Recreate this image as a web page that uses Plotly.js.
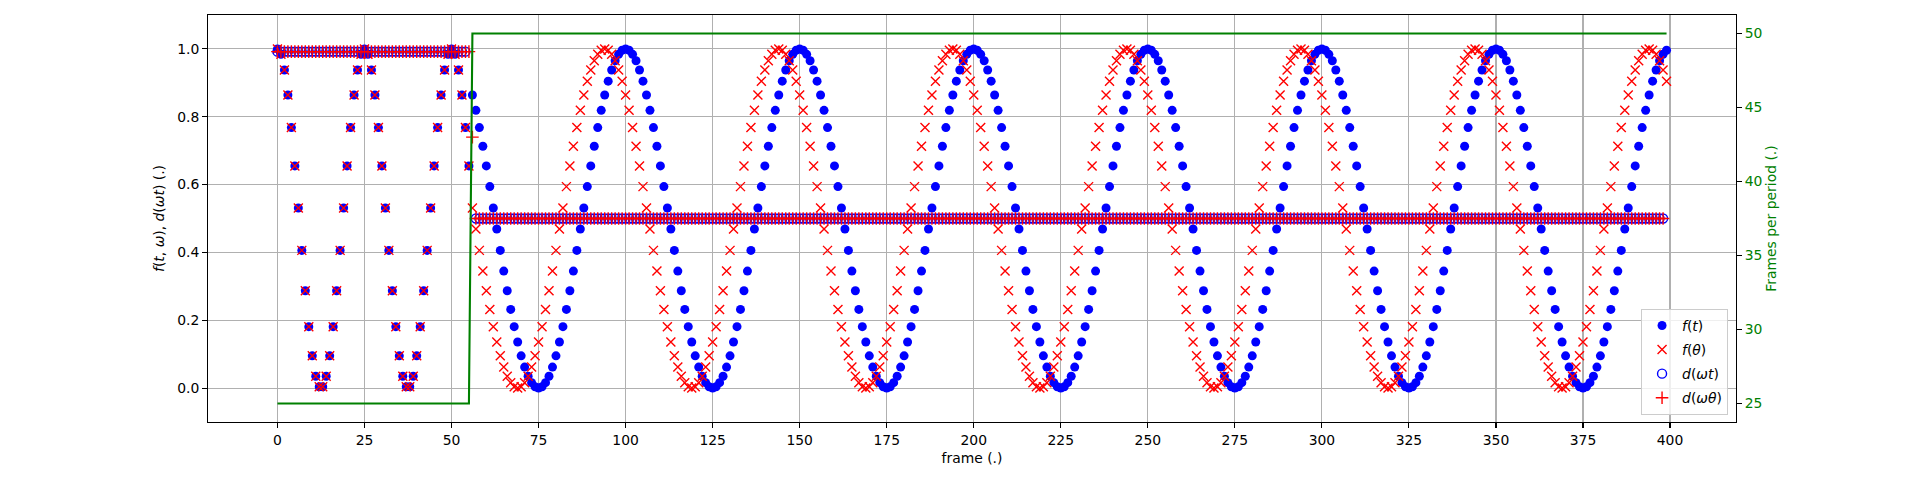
<!DOCTYPE html>
<html>
<head>
<meta charset="utf-8">
<script src="https://cdn.plot.ly/plotly-3.0.1.min.js"></script>
<style>html,body{margin:0;padding:0;background:#fff;}#chart{width:1920px;height:480px;}</style>
</head>
<body>
<div id="chart"></div>
<script>
// frame index 0..399
const frames = Array.from({length: 400}, (_, i) => i);

// f(t): blue filled circles
const fT = [
// 0-24
1.000,0.984,0.938,0.864,0.768,0.655,0.531,0.406,0.287,0.181,0.095,0.035,0.004,0.004,0.035,0.095,0.181,0.287,0.406,0.531,0.655,0.768,0.864,0.938,0.984,
// 25-49
1.000,0.984,0.938,0.864,0.768,0.655,0.531,0.406,0.287,0.181,0.095,0.035,0.004,0.004,0.035,0.095,0.181,0.287,0.406,0.531,0.655,0.768,0.864,0.938,0.984,
// 50-55
1.000,0.984,0.938,0.864,0.768,0.655,
// 56-99
0.864,0.819,0.768,0.713,
0.655,0.594,0.531,0.469,0.406,0.345,0.287,0.232,0.181,0.136,
0.095,0.062,0.035,0.016,0.004,0.000,0.004,0.016,0.035,0.062,
0.095,0.136,0.181,0.232,0.287,0.345,0.406,0.469,0.531,0.594,
0.655,0.713,0.768,0.819,0.864,0.905,0.938,0.965,0.984,0.996,
// 100-149
1.000,0.996,0.984,0.965,0.938,0.905,0.864,0.819,0.768,0.713,
0.655,0.594,0.531,0.469,0.406,0.345,0.287,0.232,0.181,0.136,
0.095,0.062,0.035,0.016,0.004,0.000,0.004,0.016,0.035,0.062,
0.095,0.136,0.181,0.232,0.287,0.345,0.406,0.469,0.531,0.594,
0.655,0.713,0.768,0.819,0.864,0.905,0.938,0.965,0.984,0.996,
// 150-199
1.000,0.996,0.984,0.965,0.938,0.905,0.864,0.819,0.768,0.713,
0.655,0.594,0.531,0.469,0.406,0.345,0.287,0.232,0.181,0.136,
0.095,0.062,0.035,0.016,0.004,0.000,0.004,0.016,0.035,0.062,
0.095,0.136,0.181,0.232,0.287,0.345,0.406,0.469,0.531,0.594,
0.655,0.713,0.768,0.819,0.864,0.905,0.938,0.965,0.984,0.996,
// 200-249
1.000,0.996,0.984,0.965,0.938,0.905,0.864,0.819,0.768,0.713,
0.655,0.594,0.531,0.469,0.406,0.345,0.287,0.232,0.181,0.136,
0.095,0.062,0.035,0.016,0.004,0.000,0.004,0.016,0.035,0.062,
0.095,0.136,0.181,0.232,0.287,0.345,0.406,0.469,0.531,0.594,
0.655,0.713,0.768,0.819,0.864,0.905,0.938,0.965,0.984,0.996,
// 250-299
1.000,0.996,0.984,0.965,0.938,0.905,0.864,0.819,0.768,0.713,
0.655,0.594,0.531,0.469,0.406,0.345,0.287,0.232,0.181,0.136,
0.095,0.062,0.035,0.016,0.004,0.000,0.004,0.016,0.035,0.062,
0.095,0.136,0.181,0.232,0.287,0.345,0.406,0.469,0.531,0.594,
0.655,0.713,0.768,0.819,0.864,0.905,0.938,0.965,0.984,0.996,
// 300-349
1.000,0.996,0.984,0.965,0.938,0.905,0.864,0.819,0.768,0.713,
0.655,0.594,0.531,0.469,0.406,0.345,0.287,0.232,0.181,0.136,
0.095,0.062,0.035,0.016,0.004,0.000,0.004,0.016,0.035,0.062,
0.095,0.136,0.181,0.232,0.287,0.345,0.406,0.469,0.531,0.594,
0.655,0.713,0.768,0.819,0.864,0.905,0.938,0.965,0.984,0.996,
// 350-399
1.000,0.996,0.984,0.965,0.938,0.905,0.864,0.819,0.768,0.713,
0.655,0.594,0.531,0.469,0.406,0.345,0.287,0.232,0.181,0.136,
0.095,0.062,0.035,0.016,0.004,0.000,0.004,0.016,0.035,0.062,
0.095,0.136,0.181,0.232,0.287,0.345,0.406,0.469,0.531,0.594,
0.655,0.713,0.768,0.819,0.864,0.905,0.938,0.965,0.984,0.996
];

// f(theta): red x markers
const fTheta = [
// 0-24
1.000,0.984,0.938,0.864,0.768,0.655,0.531,0.406,0.287,0.181,0.095,0.035,0.004,0.004,0.035,0.095,0.181,0.287,0.406,0.531,0.655,0.768,0.864,0.938,0.984,
// 25-49
1.000,0.984,0.938,0.864,0.768,0.655,0.531,0.406,0.287,0.181,0.095,0.035,0.004,0.004,0.035,0.095,0.181,0.287,0.406,0.531,0.655,0.768,0.864,0.938,0.984,
// 50-55
1.000,0.984,0.938,0.864,0.768,0.655,
// 56-93
0.531,0.469,0.406,0.345,0.287,0.232,0.181,0.136,
0.095,0.062,0.035,0.016,0.004,0.000,0.004,0.016,0.035,0.062,
0.095,0.136,0.181,0.232,0.287,0.345,0.406,0.469,0.531,0.594,
0.655,0.713,0.768,0.819,0.864,0.905,0.938,0.965,0.984,0.996,
// 94-143
1.000,0.996,0.984,0.965,0.938,0.905,0.864,0.819,0.768,0.713,
0.655,0.594,0.531,0.469,0.406,0.345,0.287,0.232,0.181,0.136,
0.095,0.062,0.035,0.016,0.004,0.000,0.004,0.016,0.035,0.062,
0.095,0.136,0.181,0.232,0.287,0.345,0.406,0.469,0.531,0.594,
0.655,0.713,0.768,0.819,0.864,0.905,0.938,0.965,0.984,0.996,
// 144-193
1.000,0.996,0.984,0.965,0.938,0.905,0.864,0.819,0.768,0.713,
0.655,0.594,0.531,0.469,0.406,0.345,0.287,0.232,0.181,0.136,
0.095,0.062,0.035,0.016,0.004,0.000,0.004,0.016,0.035,0.062,
0.095,0.136,0.181,0.232,0.287,0.345,0.406,0.469,0.531,0.594,
0.655,0.713,0.768,0.819,0.864,0.905,0.938,0.965,0.984,0.996,
// 194-243
1.000,0.996,0.984,0.965,0.938,0.905,0.864,0.819,0.768,0.713,
0.655,0.594,0.531,0.469,0.406,0.345,0.287,0.232,0.181,0.136,
0.095,0.062,0.035,0.016,0.004,0.000,0.004,0.016,0.035,0.062,
0.095,0.136,0.181,0.232,0.287,0.345,0.406,0.469,0.531,0.594,
0.655,0.713,0.768,0.819,0.864,0.905,0.938,0.965,0.984,0.996,
// 244-293
1.000,0.996,0.984,0.965,0.938,0.905,0.864,0.819,0.768,0.713,
0.655,0.594,0.531,0.469,0.406,0.345,0.287,0.232,0.181,0.136,
0.095,0.062,0.035,0.016,0.004,0.000,0.004,0.016,0.035,0.062,
0.095,0.136,0.181,0.232,0.287,0.345,0.406,0.469,0.531,0.594,
0.655,0.713,0.768,0.819,0.864,0.905,0.938,0.965,0.984,0.996,
// 294-343
1.000,0.996,0.984,0.965,0.938,0.905,0.864,0.819,0.768,0.713,
0.655,0.594,0.531,0.469,0.406,0.345,0.287,0.232,0.181,0.136,
0.095,0.062,0.035,0.016,0.004,0.000,0.004,0.016,0.035,0.062,
0.095,0.136,0.181,0.232,0.287,0.345,0.406,0.469,0.531,0.594,
0.655,0.713,0.768,0.819,0.864,0.905,0.938,0.965,0.984,0.996,
// 344-393
1.000,0.996,0.984,0.965,0.938,0.905,0.864,0.819,0.768,0.713,
0.655,0.594,0.531,0.469,0.406,0.345,0.287,0.232,0.181,0.136,
0.095,0.062,0.035,0.016,0.004,0.000,0.004,0.016,0.035,0.062,
0.095,0.136,0.181,0.232,0.287,0.345,0.406,0.469,0.531,0.594,
0.655,0.713,0.768,0.819,0.864,0.905,0.938,0.965,0.984,0.996,
// 394-399
1.000,0.996,0.984,0.965,0.938,0.905
];

// d(omega t): blue open circles (frames 55-56 fall outside the axis)
const dOmegaT = [
// 0-49
0.992,0.992,0.992,0.992,0.992,0.992,0.992,0.992,0.992,0.992,
0.992,0.992,0.992,0.992,0.992,0.992,0.992,0.992,0.992,0.992,
0.992,0.992,0.992,0.992,0.992,0.992,0.992,0.992,0.992,0.992,
0.992,0.992,0.992,0.992,0.992,0.992,0.992,0.992,0.992,0.992,
0.992,0.992,0.992,0.992,0.992,0.992,0.992,0.992,0.992,0.992,
// 50-54
0.992,0.992,0.992,0.992,0.992,
// 55-56
null,null,
// 57-59
0.5,0.5,0.5,
// 60-389
0.5,0.5,0.5,0.5,0.5,0.5,0.5,0.5,0.5,0.5,
0.5,0.5,0.5,0.5,0.5,0.5,0.5,0.5,0.5,0.5,
0.5,0.5,0.5,0.5,0.5,0.5,0.5,0.5,0.5,0.5,
0.5,0.5,0.5,0.5,0.5,0.5,0.5,0.5,0.5,0.5,
0.5,0.5,0.5,0.5,0.5,0.5,0.5,0.5,0.5,0.5,
0.5,0.5,0.5,0.5,0.5,0.5,0.5,0.5,0.5,0.5,
0.5,0.5,0.5,0.5,0.5,0.5,0.5,0.5,0.5,0.5,
0.5,0.5,0.5,0.5,0.5,0.5,0.5,0.5,0.5,0.5,
0.5,0.5,0.5,0.5,0.5,0.5,0.5,0.5,0.5,0.5,
0.5,0.5,0.5,0.5,0.5,0.5,0.5,0.5,0.5,0.5,
0.5,0.5,0.5,0.5,0.5,0.5,0.5,0.5,0.5,0.5,
0.5,0.5,0.5,0.5,0.5,0.5,0.5,0.5,0.5,0.5,
0.5,0.5,0.5,0.5,0.5,0.5,0.5,0.5,0.5,0.5,
0.5,0.5,0.5,0.5,0.5,0.5,0.5,0.5,0.5,0.5,
0.5,0.5,0.5,0.5,0.5,0.5,0.5,0.5,0.5,0.5,
0.5,0.5,0.5,0.5,0.5,0.5,0.5,0.5,0.5,0.5,
0.5,0.5,0.5,0.5,0.5,0.5,0.5,0.5,0.5,0.5,
0.5,0.5,0.5,0.5,0.5,0.5,0.5,0.5,0.5,0.5,
0.5,0.5,0.5,0.5,0.5,0.5,0.5,0.5,0.5,0.5,
0.5,0.5,0.5,0.5,0.5,0.5,0.5,0.5,0.5,0.5,
0.5,0.5,0.5,0.5,0.5,0.5,0.5,0.5,0.5,0.5,
0.5,0.5,0.5,0.5,0.5,0.5,0.5,0.5,0.5,0.5,
0.5,0.5,0.5,0.5,0.5,0.5,0.5,0.5,0.5,0.5,
0.5,0.5,0.5,0.5,0.5,0.5,0.5,0.5,0.5,0.5,
0.5,0.5,0.5,0.5,0.5,0.5,0.5,0.5,0.5,0.5,
0.5,0.5,0.5,0.5,0.5,0.5,0.5,0.5,0.5,0.5,
0.5,0.5,0.5,0.5,0.5,0.5,0.5,0.5,0.5,0.5,
0.5,0.5,0.5,0.5,0.5,0.5,0.5,0.5,0.5,0.5,
0.5,0.5,0.5,0.5,0.5,0.5,0.5,0.5,0.5,0.5,
0.5,0.5,0.5,0.5,0.5,0.5,0.5,0.5,0.5,0.5,
0.5,0.5,0.5,0.5,0.5,0.5,0.5,0.5,0.5,0.5,
0.5,0.5,0.5,0.5,0.5,0.5,0.5,0.5,0.5,0.5,
0.5,0.5,0.5,0.5,0.5,0.5,0.5,0.5,0.5,0.5,
// 390-398
0.5,0.5,0.5,0.5,0.5,0.5,0.5,0.5,0.5,
// 399
null
];

// d(omega theta): red plus markers
const dOmegaTheta = [
// 0-49
0.992,0.992,0.992,0.992,0.992,0.992,0.992,0.992,0.992,0.992,
0.992,0.992,0.992,0.992,0.992,0.992,0.992,0.992,0.992,0.992,
0.992,0.992,0.992,0.992,0.992,0.992,0.992,0.992,0.992,0.992,
0.992,0.992,0.992,0.992,0.992,0.992,0.992,0.992,0.992,0.992,
0.992,0.992,0.992,0.992,0.992,0.992,0.992,0.992,0.992,0.992,
// 50-55
0.992,0.992,0.992,0.992,0.992,0.992,
// 56
0.74,
// 57-59
0.5,0.5,0.5,
// 60-389
0.5,0.5,0.5,0.5,0.5,0.5,0.5,0.5,0.5,0.5,
0.5,0.5,0.5,0.5,0.5,0.5,0.5,0.5,0.5,0.5,
0.5,0.5,0.5,0.5,0.5,0.5,0.5,0.5,0.5,0.5,
0.5,0.5,0.5,0.5,0.5,0.5,0.5,0.5,0.5,0.5,
0.5,0.5,0.5,0.5,0.5,0.5,0.5,0.5,0.5,0.5,
0.5,0.5,0.5,0.5,0.5,0.5,0.5,0.5,0.5,0.5,
0.5,0.5,0.5,0.5,0.5,0.5,0.5,0.5,0.5,0.5,
0.5,0.5,0.5,0.5,0.5,0.5,0.5,0.5,0.5,0.5,
0.5,0.5,0.5,0.5,0.5,0.5,0.5,0.5,0.5,0.5,
0.5,0.5,0.5,0.5,0.5,0.5,0.5,0.5,0.5,0.5,
0.5,0.5,0.5,0.5,0.5,0.5,0.5,0.5,0.5,0.5,
0.5,0.5,0.5,0.5,0.5,0.5,0.5,0.5,0.5,0.5,
0.5,0.5,0.5,0.5,0.5,0.5,0.5,0.5,0.5,0.5,
0.5,0.5,0.5,0.5,0.5,0.5,0.5,0.5,0.5,0.5,
0.5,0.5,0.5,0.5,0.5,0.5,0.5,0.5,0.5,0.5,
0.5,0.5,0.5,0.5,0.5,0.5,0.5,0.5,0.5,0.5,
0.5,0.5,0.5,0.5,0.5,0.5,0.5,0.5,0.5,0.5,
0.5,0.5,0.5,0.5,0.5,0.5,0.5,0.5,0.5,0.5,
0.5,0.5,0.5,0.5,0.5,0.5,0.5,0.5,0.5,0.5,
0.5,0.5,0.5,0.5,0.5,0.5,0.5,0.5,0.5,0.5,
0.5,0.5,0.5,0.5,0.5,0.5,0.5,0.5,0.5,0.5,
0.5,0.5,0.5,0.5,0.5,0.5,0.5,0.5,0.5,0.5,
0.5,0.5,0.5,0.5,0.5,0.5,0.5,0.5,0.5,0.5,
0.5,0.5,0.5,0.5,0.5,0.5,0.5,0.5,0.5,0.5,
0.5,0.5,0.5,0.5,0.5,0.5,0.5,0.5,0.5,0.5,
0.5,0.5,0.5,0.5,0.5,0.5,0.5,0.5,0.5,0.5,
0.5,0.5,0.5,0.5,0.5,0.5,0.5,0.5,0.5,0.5,
0.5,0.5,0.5,0.5,0.5,0.5,0.5,0.5,0.5,0.5,
0.5,0.5,0.5,0.5,0.5,0.5,0.5,0.5,0.5,0.5,
0.5,0.5,0.5,0.5,0.5,0.5,0.5,0.5,0.5,0.5,
0.5,0.5,0.5,0.5,0.5,0.5,0.5,0.5,0.5,0.5,
0.5,0.5,0.5,0.5,0.5,0.5,0.5,0.5,0.5,0.5,
0.5,0.5,0.5,0.5,0.5,0.5,0.5,0.5,0.5,0.5,
// 390-398
0.5,0.5,0.5,0.5,0.5,0.5,0.5,0.5,0.5,
// 399
null
];

// frames per period (right axis, green line)
const framesPerPeriod = [
// 0-49
25,25,25,25,25,25,25,25,25,25,
25,25,25,25,25,25,25,25,25,25,
25,25,25,25,25,25,25,25,25,25,
25,25,25,25,25,25,25,25,25,25,
25,25,25,25,25,25,25,25,25,25,
// 50-55
25,25,25,25,25,25,
// 56-59
50,50,50,50,
// 60-399
50,50,50,50,50,50,50,50,50,50,
50,50,50,50,50,50,50,50,50,50,
50,50,50,50,50,50,50,50,50,50,
50,50,50,50,50,50,50,50,50,50,
50,50,50,50,50,50,50,50,50,50,
50,50,50,50,50,50,50,50,50,50,
50,50,50,50,50,50,50,50,50,50,
50,50,50,50,50,50,50,50,50,50,
50,50,50,50,50,50,50,50,50,50,
50,50,50,50,50,50,50,50,50,50,
50,50,50,50,50,50,50,50,50,50,
50,50,50,50,50,50,50,50,50,50,
50,50,50,50,50,50,50,50,50,50,
50,50,50,50,50,50,50,50,50,50,
50,50,50,50,50,50,50,50,50,50,
50,50,50,50,50,50,50,50,50,50,
50,50,50,50,50,50,50,50,50,50,
50,50,50,50,50,50,50,50,50,50,
50,50,50,50,50,50,50,50,50,50,
50,50,50,50,50,50,50,50,50,50,
50,50,50,50,50,50,50,50,50,50,
50,50,50,50,50,50,50,50,50,50,
50,50,50,50,50,50,50,50,50,50,
50,50,50,50,50,50,50,50,50,50,
50,50,50,50,50,50,50,50,50,50,
50,50,50,50,50,50,50,50,50,50,
50,50,50,50,50,50,50,50,50,50,
50,50,50,50,50,50,50,50,50,50,
50,50,50,50,50,50,50,50,50,50,
50,50,50,50,50,50,50,50,50,50,
50,50,50,50,50,50,50,50,50,50,
50,50,50,50,50,50,50,50,50,50,
50,50,50,50,50,50,50,50,50,50,
50,50,50,50,50,50,50,50,50,50
];

const seriesNames = ['<i>f</i>(<i>t</i>)', '<i>f</i>(<i>θ</i>)', '<i>d</i>(<i>ωt</i>)', '<i>d</i>(<i>ωθ</i>)'];

[fT, fTheta, dOmegaT, dOmegaTheta, framesPerPeriod].forEach((a, i) => {
  if (a.length !== 400) throw new Error('series ' + i + ' has length ' + a.length);
});

const FONT = 'DejaVu Sans';
const FS = 13.9;
const MS = 9;

const traces = [
  {x: frames, y: fT, type: 'scatter', mode: 'markers', name: seriesNames[0], legendgroup: 'a',
   marker: {symbol: 'circle', size: MS, color: '#0000ff', line: {width: 0}}},
  {x: frames, y: fTheta, type: 'scatter', mode: 'markers', name: seriesNames[1], legendgroup: 'b',
   marker: {symbol: 'x-thin-open', size: MS, color: '#ff0000', line: {width: 1.4, color: '#ff0000'}}},
  {x: frames, y: dOmegaT, type: 'scatter', mode: 'markers', name: seriesNames[2], legendgroup: 'c',
   marker: {symbol: 'circle-open', size: MS, color: '#0000ff', line: {width: 1.4, color: '#0000ff'}}},
  {x: frames, y: dOmegaTheta, type: 'scatter', mode: 'markers', name: seriesNames[3], legendgroup: 'd',
   marker: {symbol: 'cross-thin-open', size: MS, color: '#ff0000', line: {width: 1.4, color: '#ff0000'}}},
  {x: frames, y: framesPerPeriod, type: 'scatter', mode: 'lines', yaxis: 'y2', showlegend: false,
   line: {color: '#008000', width: 2.1}}
];

const axisCommon = {
  ticks: 'outside', ticklen: 4.9, tickwidth: 1.1, tickcolor: '#000',
  showline: true, linecolor: '#000', linewidth: 1.1,
  zeroline: false, tickfont: {family: FONT, size: FS, color: '#000'}
};

const layout = {
  width: 1920, height: 480,
  margin: {l: 208, r: 184, t: 15, b: 58, pad: 0},
  paper_bgcolor: '#ffffff', plot_bgcolor: '#ffffff',
  font: {family: FONT, size: FS, color: '#000'},
  showlegend: true,
  xaxis: Object.assign({}, axisCommon, {
    range: [-19.95, 418.95], tick0: 0, dtick: 25, mirror: true,
    showgrid: true, gridcolor: '#b0b0b0', gridwidth: 1.1,
    title: {text: 'frame (.)', font: {family: FONT, size: FS, color: '#000'}, standoff: 6}
  }),
  yaxis: Object.assign({}, axisCommon, {
    range: [-0.1, 1.1], tick0: 0, dtick: 0.2, tickformat: '.1f', mirror: true,
    showgrid: true, gridcolor: '#b0b0b0', gridwidth: 1.1,
    title: {text: '<i>f</i>(<i>t</i>, <i>ω</i>), <i>d</i>(<i>ωt</i>) (.)', font: {family: FONT, size: FS, color: '#000'}, standoff: 9}
  }),
  yaxis2: Object.assign({}, axisCommon, {
    overlaying: 'y', side: 'right', anchor: 'x',
    range: [23.75, 51.25], tick0: 25, dtick: 5, showgrid: false,
    tickfont: {family: FONT, size: FS, color: '#008000'},
    title: {text: 'Frames per period (.)', font: {family: FONT, size: FS, color: '#008000'}, standoff: 4}
  }),
  legend: {
    x: 0.9948, y: 0.0172, xanchor: 'right', yanchor: 'bottom',
    bgcolor: 'rgba(255,255,255,0.8)', bordercolor: '#cccccc', borderwidth: 1,
    font: {family: FONT, size: FS, color: '#000'},
    tracegroupgap: 3
  }
};

Plotly.newPlot('chart', traces, layout, {displayModeBar: false, staticPlot: true});
</script>
</body>
</html>
